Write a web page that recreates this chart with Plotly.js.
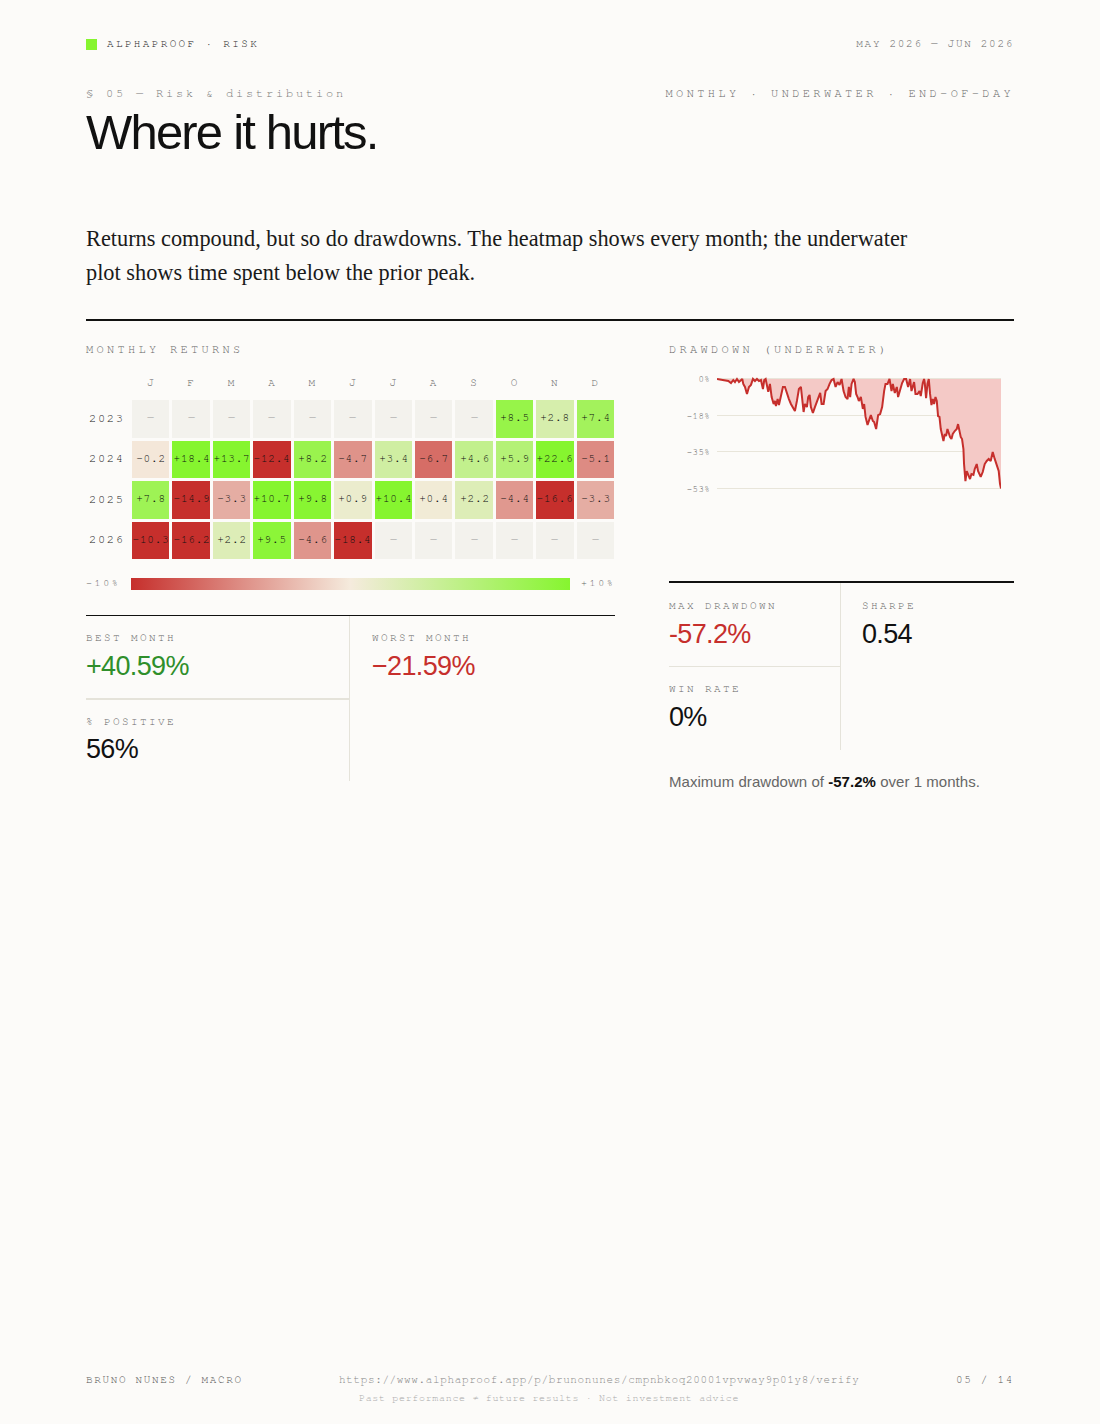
<!DOCTYPE html>
<html>
<head>
<meta charset="utf-8">
<title>Where it hurts</title>
<script src="https://cdn.plot.ly/plotly-3.0.1.min.js"></script>
<style>
  html, body { margin: 0; padding: 0; background: #fcfbf9; }
  #page { position: relative; width: 1100px; height: 1424px; overflow: hidden; background: #fcfbf9; }
  .t { position: absolute; white-space: pre; line-height: 1; }
  .mono { font-family: "Nimbus Mono PS", "Nimbus Mono L", FreeMono, Courier, "Liberation Mono", monospace; }
  .sans { font-family: "Liberation Sans", sans-serif; }
  .lab { font-family: "Nimbus Mono PS", "Nimbus Mono L", FreeMono, Courier, "Liberation Mono", monospace; font-size: 11px; letter-spacing: 2.4px; color: #666; }
  .big { font-family: "Liberation Sans", sans-serif; font-size: 27px; letter-spacing: -0.65px; color: #111; }
  .r { position: absolute; }
  #returns, #underwater { position: absolute; }
  #returns { left: 86px; top: 370px; width: 535px; height: 230px; }
  #underwater { left: 669px; top: 365px; width: 345px; height: 135px; }
  #returns .heatmaplayer text { letter-spacing: 0.8px; translate: 0 -1.5px; }
  #returns .ytick text { letter-spacing: 1.7px; translate: 0 -1.5px; }
  #returns .xtick text { letter-spacing: 2px; }
  #underwater .ytick text { letter-spacing: 0.4px; }
</style>
</head>
<body>
<div id="page">
  <div class="r" style="left:86px;top:39px;width:11px;height:11px;background:#86f52f"></div>
  <div class="t mono" style="left:107px;top:38px;font-size:11px;letter-spacing:2.35px;color:#222">ALPHAPROOF · RISK</div>
  <div class="t mono" style="right:86px;top:38px;font-size:11px;letter-spacing:1.7px;color:#666">MAY 2026 — JUN 2026</div>
  <div class="t mono" style="left:86px;top:87px;font-size:12px;letter-spacing:2.8px;color:#777">§ 05 — Risk &amp; distribution</div>
  <div class="t mono" style="right:86px;top:87px;font-size:12px;letter-spacing:3.36px;color:#666">MONTHLY · UNDERWATER · END-OF-DAY</div>
  <div class="t sans" style="left:86px;top:108px;font-size:49px;letter-spacing:-1.8px;color:#111">Where it hurts.</div>
  <div class="t" style="left:86px;top:222px;font-family:'Liberation Serif',serif;font-size:22.32px;line-height:34px;color:#1a1a1a">Returns compound, but so do drawdowns. The heatmap shows every month; the underwater
plot shows time spent below the prior peak.</div>
  <div class="r" style="left:86px;top:319px;width:928px;height:2px;background:#111"></div>

  <div class="t mono" style="left:86px;top:343px;font-size:12px;letter-spacing:3.3px;color:#666">MONTHLY RETURNS</div>
  <div class="t mono" style="left:669px;top:343px;font-size:12px;letter-spacing:3.3px;color:#666">DRAWDOWN (UNDERWATER)</div>

  <div id="returns"></div>
  <div id="underwater"></div>

  <div class="t mono" style="left:86px;top:578px;font-size:10px;letter-spacing:2.6px;color:#666">−10%</div>
  <div class="t mono" style="left:581px;top:578px;font-size:10px;letter-spacing:2.6px;color:#666">+10%</div>

  <div class="r" style="left:86px;top:615px;width:529px;height:1px;background:#111"></div>
  <div class="r" style="left:349px;top:616px;width:1px;height:165px;background:#e5e3da"></div>
  <div class="r" style="left:86px;top:698px;width:263px;height:2px;background:#e5e3da"></div>
  <div class="t lab" style="left:86px;top:632px">BEST MONTH</div>
  <div class="t big" style="left:86px;top:653px;color:#2f8f2b">+40.59%</div>
  <div class="t lab" style="left:372px;top:632px">WORST MONTH</div>
  <div class="t big" style="left:372px;top:653px;color:#c62f2c">−21.59%</div>
  <div class="t lab" style="left:86px;top:716px">% POSITIVE</div>
  <div class="t big" style="left:86px;top:736px">56%</div>

  <div class="r" style="left:669px;top:581px;width:345px;height:2px;background:#111"></div>
  <div class="r" style="left:840px;top:583px;width:1px;height:167px;background:#e5e3da"></div>
  <div class="r" style="left:669px;top:666px;width:171px;height:1px;background:#e5e3da"></div>
  <div class="t lab" style="left:669px;top:600px">MAX DRAWDOWN</div>
  <div class="t big" style="left:669px;top:621px;color:#c62f2c">-57.2%</div>
  <div class="t lab" style="left:862px;top:600px">SHARPE</div>
  <div class="t big" style="left:862px;top:621px">0.54</div>
  <div class="t lab" style="left:669px;top:683px">WIN RATE</div>
  <div class="t big" style="left:669px;top:704px">0%</div>
  <div class="t sans" style="left:669px;top:774px;font-size:15px;letter-spacing:0.04px;color:#666">Maximum drawdown of <b style="color:#111">-57.2%</b> over 1 months.</div>

  <div class="t mono" style="left:86px;top:1374px;font-size:11px;letter-spacing:1.65px;color:#555">BRUNO NUNES / MACRO</div>
  <div class="t mono" style="left:339px;top:1374px;font-size:11px;letter-spacing:0.63px;color:#888">https://www.alphaproof.app/p/brunonunes/cmpnbkoq20001vpvway9p01y8/verify</div>
  <div class="t mono" style="left:359px;top:1393px;font-size:10px;letter-spacing:0.67px;color:#aaa">Past performance ≠ future results · Not investment advice</div>
  <div class="t mono" style="right:86px;top:1374px;font-size:11px;letter-spacing:1.7px;color:#555">05 / 14</div>
</div>
<script>
var months = ['J', 'F', 'M', 'A', 'M', 'J', 'J', 'A', 'S', 'O', 'N', 'D'];
var years = ['2023', '2024', '2025', '2026'];
var r2023 = [null, null, null, null, null, null, null, null, null, 8.5, 2.8, 7.4];
var r2024 = [-0.2, 18.4, 13.7, -12.4, 8.2, -4.7, 3.4, -6.7, 4.6, 5.9, 22.6, -5.1];
var r2025 = [7.8, -14.9, -3.3, 10.7, 9.8, 0.9, 10.4, 0.4, 2.2, -4.4, -16.6, -3.3];
var r2026 = [-10.3, -16.2, 2.2, 9.5, -4.6, -18.4, null, null, null, null, null, null];

// underwater curve. ddT is just a time index, no labels on that axis
var ddT = [0, 4.7, 8, 11.3, 14, 16.3, 18, 20, 22, 24, 25.3, 26.3, 28, 30, 32, 34, 36, 38, 40, 42, 44, 46, 47.3, 48.7, 50, 51.3, 53, 54.7, 56.7, 58, 59, 60.7, 62, 64, 66, 68,
  70, 72, 74, 76, 78, 80, 82, 84, 85.3, 86.7, 88, 90, 91.3, 92.7, 94, 96, 98, 100, 102, 103.3, 104.7, 106.7, 108.7, 110.7, 112.7, 114.7, 116.7, 118.7, 120.7, 122.7, 124.7, 126.7, 128.7, 130.7, 132, 133.3, 134.7, 136.7, 138,
  139.3, 140.7, 142, 144, 146, 147.3, 148.7, 150.7, 152.7, 154, 156, 157.3, 159.3, 161.3, 163.3, 165.3, 167.3, 168.7, 170.7, 172.7, 174.7, 176, 178, 180, 181.3, 183.3, 185.3, 187.3, 189.3, 191.3, 193.3, 194.7, 197.3, 198.7, 200.7, 202.7, 204, 206, 207.3,
  208, 209.3, 210.7, 212, 213.3, 214.7, 216, 217.3, 218.7, 220, 221.3, 222.7, 224, 225.3, 226.7, 228, 229.3, 230.7, 232, 233.3, 234.7, 236, 238, 240, 241.3, 242.7, 244, 245.3, 246.7, 247.3, 248, 248.7, 250, 251.3, 253.3, 254.7, 256.7, 258, 260, 261.3, 264, 266, 268, 270, 272, 274, 276, 278, 280, 282, 283.3, 284.3];
var ddPct = [0, -0.5, -1, -1, -2, -0.5, -1.5, 0, -1.5, -0.5, 0, -2.4, -3.9, -7.3, -3.9, -2.9, 0, -1, 0, -1, -0.5, -4.9, -0.5, 0, -3.9, -6.3, -2.4, -8.8, -12.2, -10.7, -13.2, -9.8, -12.7, -7.3, -3.9, -3.9,
  -7.3, -9.8, -12.2, -13.7, -15.6, -10.7, -4.9, -3.9, -8.8, -16.1, -12.2, -13.7, -8.8, -7.8, -13.7, -16.6, -13.7, -10.7, -8.8, -6.8, -12.2, -12.2, -5.9, -4.9, -2.4, -0.5, 0, -3.9, -1.5, -2.9, 0, -5.9, -8.8, -9.8, -3.9, -8.8, -2.4, 0, -1.5,
  -7.3, -8.8, -10.7, -8.8, -14.6, -12.2, -18.5, -22.4, -19.5, -17.6, -20.5, -21, -24.4, -17.6, -17.1, -13.7, -5.9, -2.4, -2.4, 0, -5.9, -2.4, -6.8, -3.9, -8.8, -4.9, -2, 0, 0, -3.9, 0, -5.9, -1.5, -7.3, -7.3, -5.9, -8.3, -2, 0,
  -2, -9.3, -2.4, 0, -7.3, -12.7, -9.8, -12.2, -8.8, -10.7, -18.1, -18.5, -24.4, -28.3, -30.3, -26.8, -27.8, -24.4, -26.8, -28.3, -29.3, -26.8, -25.4, -24.4, -22, -25.4, -28.3, -29.3, -34.2, -41.5, -48.8, -49.8, -44.9, -46.8, -48.8, -46.4, -46.8, -43.9, -41.5, -44.9, -47.8, -45.4, -41.5, -40, -39, -40, -35.6, -39, -41.5, -44.9, -51.2, -53.4];
var ddTicks = [0, -17.8, -35.6, -53.4];
var ddTickText = ['0%', '−18%', '−35%', '−53%'];

var monoFont = '"Nimbus Mono PS", "Nimbus Mono L", FreeMono, Courier, "Liberation Mono", monospace';

function fmt(v) {
    return (v < 0 ? '−' : '+') + Math.abs(v).toFixed(1);
}

var monthIdx = months.map(function (m, i) { return i; });
var zVals = [r2023, r2024, r2025, r2026];
var zText = zVals.map(function (row) {
    return row.map(function (v) { return v === null ? '' : fmt(v); });
});
var zEmpty = zVals.map(function (row) {
    return row.map(function (v) { return v === null ? 1 : null; });
});
var dashText = zVals.map(function (row) {
    return row.map(function (v) { return v === null ? '—' : ''; });
});

var emptyTrace = {
    type: 'heatmap',
    x: monthIdx,
    y: years,
    z: zEmpty,
    text: dashText,
    texttemplate: '%{text}',
    textfont: { family: monoFont, size: 11, color: '#999' },
    zmin: 0,
    zmax: 1,
    colorscale: [[0, '#f3f2ed'], [1, '#f3f2ed']],
    showscale: false,
    xgap: 3,
    ygap: 3,
    hoverinfo: 'skip'
};

var returnsTrace = {
    type: 'heatmap',
    x: monthIdx,
    y: years,
    z: zVals,
    text: zText,
    texttemplate: '%{text}',
    textfont: { family: monoFont, size: 11, color: '#111' },
    zmin: -10,
    zmax: 10,
    colorscale: [[0, '#c62f2c'], [0.5, '#f5ebdd'], [1, '#86f52f']],
    xgap: 3,
    ygap: 3,
    colorbar: {
        orientation: 'h',
        xref: 'container',
        yref: 'container',
        x: 50 / 535,
        xanchor: 'left',
        y: 10 / 230,
        yanchor: 'bottom',
        len: 439,
        lenmode: 'pixels',
        thickness: 12,
        thicknessmode: 'pixels',
        xpad: 0,
        ypad: 0,
        outlinewidth: 0,
        ticks: '',
        showticklabels: false
    }
};

var returnsLayout = {
    width: 535,
    height: 230,
    margin: { l: 44.5, r: 4.5, t: 28.5, b: 38.5, autoexpand: false },
    paper_bgcolor: 'rgba(0,0,0,0)',
    plot_bgcolor: 'rgba(0,0,0,0)',
    xaxis: {
        side: 'top',
        range: [-0.5, 11.5],
        tickmode: 'array',
        tickvals: monthIdx,
        ticktext: months,
        showgrid: false,
        zeroline: false,
        ticklen: 0,
        ticklabelstandoff: 8,
        tickfont: { family: monoFont, size: 11, color: '#666' }
    },
    yaxis: {
        type: 'category',
        range: [3.5, -0.5],
        showgrid: false,
        zeroline: false,
        ticklen: 0,
        ticklabelstandoff: 3,
        tickfont: { family: monoFont, size: 12, color: '#222' }
    }
};

var ddTrace = {
    type: 'scatter',
    mode: 'lines',
    x: ddT,
    y: ddPct,
    fill: 'tozeroy',
    fillcolor: '#f4c9c6',
    line: { color: '#c62f2c', width: 2 },
    hoverinfo: 'skip'
};

var ddLayout = {
    width: 345,
    height: 135,
    margin: { l: 48, r: 12.7, t: 7, b: 5, autoexpand: false },
    paper_bgcolor: 'rgba(0,0,0,0)',
    plot_bgcolor: 'rgba(0,0,0,0)',
    showlegend: false,
    xaxis: { range: [0, 284.3], visible: false },
    yaxis: {
        range: [-56.6, 3.41],
        tickmode: 'array',
        tickvals: ddTicks,
        ticktext: ddTickText,
        gridcolor: '#e8e5da',
        gridwidth: 1,
        zeroline: false,
        ticklen: 0,
        ticklabelstandoff: 6,
        tickfont: { family: monoFont, size: 9, color: '#666' }
    }
};

var config = { displayModeBar: false, responsive: false };

Plotly.newPlot('returns', [emptyTrace, returnsTrace], returnsLayout, config);
Plotly.newPlot('underwater', [ddTrace], ddLayout, config);
</script>
</body>
</html>
